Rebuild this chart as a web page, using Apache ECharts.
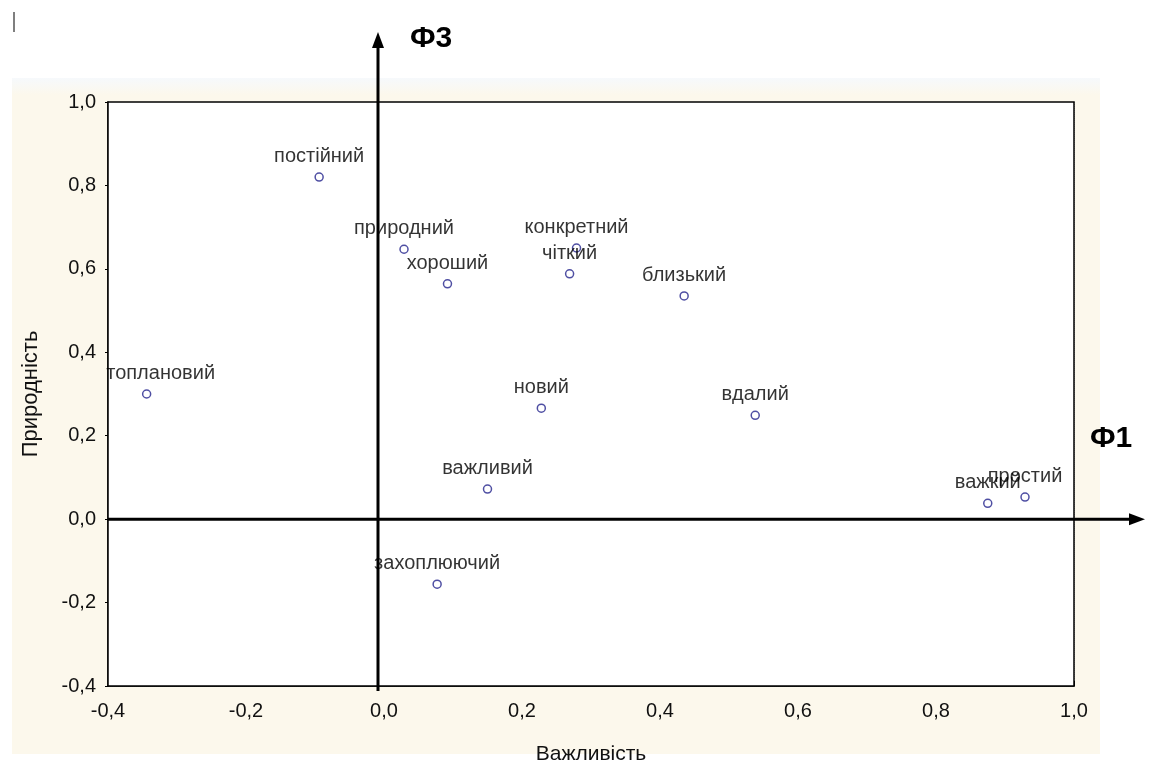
<!DOCTYPE html>
<html><head><meta charset="utf-8">
<script src="https://cdn.jsdelivr.net/npm/echarts@6/dist/echarts.min.js"></script>
<style>html,body{margin:0;padding:0;background:#fff}#c{width:1152px;height:771px}</style>
</head><body><div id="c"></div>
<script>
const words = ['постійний','природний','хороший','конкретний','чіткий','близький','топлановий','новий','вдалий','важливий','важкий','простий','захоплюючий'];
const importance = [-0.094, 0.029, 0.092, 0.279, 0.269, 0.435, -0.344, 0.228, 0.538, 0.150, 0.875, 0.929, 0.077];
const naturalness = [0.82, 0.647, 0.564, 0.65, 0.588, 0.535, 0.30, 0.266, 0.249, 0.072, 0.038, 0.053, -0.156];
const axisMin = -0.4, axisMax = 1.0, axisStep = 0.2;
const xName = 'Важливість', yName = 'Природність';
const f1 = 'Ф1', f3 = 'Ф3';

const FONT = '"Liberation Sans", Arial, sans-serif';
const fmt = v => v.toFixed(1).replace('.', ',');
const chart = echarts.init(document.getElementById('c'));
const pts = words.map((w, i) => ({
  value: [importance[i], naturalness[i]], name: w,
  label: w === 'топлановий' ? { offset: [14, 0] } : undefined
}));
const G = { left: 108, top: 102, right: 78, bottom: 85 };
chart.setOption({
  animation: false,
  backgroundColor: '#fff',
  grid: { left: G.left, top: G.top, right: G.right, bottom: G.bottom, show: true, backgroundColor: '#fff', borderColor: '#000', borderWidth: 1.5, z: 1 },
  xAxis: {
    type: 'value', min: axisMin, max: axisMax, interval: axisStep,
    axisLine: { show: true, onZero: false, lineStyle: { color: '#000', width: 1.5 } },
    axisTick: { show: true, inside: true, length: 5, lineStyle: { color: '#000' } },
    axisLabel: { formatter: fmt, color: '#111', fontSize: 20, fontFamily: FONT, margin: 15 },
    splitLine: { show: true, lineStyle: { color: '#b5b5b5', type: 'dotted', width: 1 } },
    name: xName, nameLocation: 'middle', nameGap: 58,
    nameTextStyle: { color: '#111', fontSize: 21, fontFamily: FONT }
  },
  yAxis: {
    type: 'value', min: axisMin, max: axisMax, interval: axisStep,
    axisLine: { show: true, onZero: false, lineStyle: { color: '#000', width: 1.5 } },
    axisTick: { show: true, inside: false, length: 3, lineStyle: { color: '#000' } },
    axisLabel: { formatter: fmt, color: '#111', fontSize: 20, fontFamily: FONT, margin: 12 },
    splitLine: { show: true, lineStyle: { color: '#b5b5b5', type: 'dotted', width: 1 } },
    name: yName, nameLocation: 'middle', nameGap: 66,
    nameTextStyle: { color: '#111', fontSize: 22, fontFamily: FONT }
  },
  series: [{
    type: 'scatter', data: pts, symbol: 'circle', symbolSize: 8, z: 5,
    itemStyle: { color: 'rgba(255,255,255,0)', borderColor: '#23238c', borderWidth: 1.5 },
    label: { show: true, position: 'top', distance: 6, formatter: p => p.name, color: '#000', fontSize: 20, fontFamily: FONT }
  }]
});
const o = chart.convertToPixel({ gridIndex: 0 }, [0, 0]);
const gridBottom = 771 - G.bottom;
const vx = o[0] - 6;
chart.setOption({
  graphic: [
    { type: 'rect', z: -100, silent: true, shape: { x: 12, y: 78, width: 1088, height: 676 },
      style: { fill: new echarts.graphic.LinearGradient(0, 0, 0, 1, [
        { offset: 0, color: '#F6F9FC' }, { offset: 0.025, color: '#FCF8EC' }, { offset: 1, color: '#FCF8EC' }]) } },
    { type: 'line', z: 100, silent: true, shape: { x1: 14, y1: 12, x2: 14, y2: 32 }, style: { stroke: '#555', lineWidth: 1.5 } },
    { type: 'line', z: 100, silent: true, shape: { x1: vx, y1: 44, x2: vx, y2: gridBottom + 5 }, style: { stroke: '#000', lineWidth: 3 } },
    { type: 'polygon', z: 100, silent: true, shape: { points: [[vx, 32], [vx - 6, 48], [vx + 6, 48]] }, style: { fill: '#000' } },
    { type: 'line', z: 100, silent: true, shape: { x1: G.left, y1: o[1], x2: 1132, y2: o[1] }, style: { stroke: '#000', lineWidth: 3 } },
    { type: 'polygon', z: 100, silent: true, shape: { points: [[1145, o[1]], [1129, o[1] - 6], [1129, o[1] + 6]] }, style: { fill: '#000' } },
    { type: 'text', z: 100, silent: true, left: 410, top: 24, style: { text: f3, font: 'bold 30px ' + FONT, fill: '#000' } },
    { type: 'text', z: 100, silent: true, left: 1090, top: 424, style: { text: f1, font: 'bold 30px ' + FONT, fill: '#000' } }
  ]
});
</script></body></html>
